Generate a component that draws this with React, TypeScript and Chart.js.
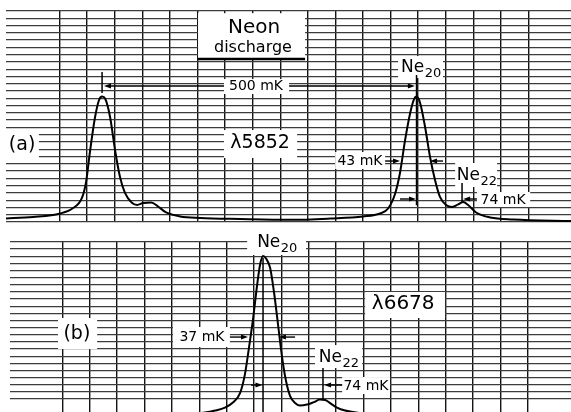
import { useEffect, useRef } from "react";
import { Chart, registerables } from "chart.js";

Chart.register(...registerables);

// ---- Data (chart-paper divisions) ----
// Panel (a) λ5852 trace
const traceAX = [-1.02, 0.04, 1.02, 1.49, 1.81, 1.96, 2.1, 2.28, 2.43, 2.54, 2.65, 2.83, 3.01, 3.19, 3.37, 3.61, 3.81, 4.03, 4.32, 4.57, 4.86, 5.37, 6.09, 7.54, 9.36, 10.81, 12.0, 12.62, 12.91, 13.16, 13.34, 13.52, 13.71, 13.85, 13.94, 14.07, 14.25, 14.43, 14.61, 14.79, 15.01, 15.23, 15.45, 15.63, 15.81, 16.1, 16.61, 17.44, 19.6];
const traceAY = [0.48, 0.69, 1.17, 1.92, 3.3, 5.5, 9.62, 14.29, 16.77, 17.25, 16.97, 14.43, 9.9, 6.18, 3.99, 2.68, 2.34, 2.61, 2.68, 2.13, 1.31, 0.76, 0.55, 0.41, 0.3, 0.48, 0.76, 1.17, 1.86, 3.85, 6.73, 11.13, 14.98, 16.9, 17.25, 16.36, 13.06, 8.93, 5.77, 3.44, 2.34, 2.06, 2.41, 2.75, 2.34, 1.31, 0.62, 0.34, 0.14];
// Panel (b) λ6678 trace
const traceBX = [5.3, 6.21, 6.58, 6.94, 7.23, 7.49, 7.67, 7.82, 7.97, 8.11, 8.22, 8.33, 8.44, 8.59, 8.73, 8.88, 9.02, 9.17, 9.32, 9.5, 9.68, 9.94, 10.19, 10.41, 10.6, 10.78, 11.03, 11.33, 11.87, 13.34];
const traceBY = [-1.09, -0.88, -0.6, -0.18, 0.52, 1.85, 4.51, 8.29, 12.36, 16.84, 19.78, 21.04, 20.69, 19.36, 16.0, 11.38, 7.03, 3.53, 1.43, 0.45, 0.1, 0.24, 0.59, 0.94, 0.87, 0.45, -0.18, -0.6, -0.95, -1.16];

// Axis ranges (divisions)
const rangeA = { xMin: -0.943, xMax: 19.54, yMin: 0, yMax: 29 };
const rangeB = { xMin: -0.913, xMax: 19.58, yMin: -0.8, yMax: 23 };

type Ann =
  | { kind: "box"; x0: number; x1: number; y0: number; y1: number }
  | { kind: "line"; x0: number; y0: number; x1: number; y1: number; w: number }
  | { kind: "arrow"; from: number; to: number; y: number }
  | { kind: "text"; x: number; y: number; text: string; size: number }
  | { kind: "iso"; x: number; y: number; text: string; sub: string; size: number; subSize: number };

const annA: Ann[] = [
  { kind: "box", x0: 6.02, x1: 9.9, y0: 22.4, y1: 28.7 },
  { kind: "line", x0: 6.02, y0: 22.4, x1: 9.9, y1: 22.4, w: 2.5 },
  { kind: "text", x: 8.05, y: 26.66, text: "Neon", size: 20 },
  { kind: "text", x: 8.01, y: 23.91, text: "discharge", size: 16 },
  { kind: "box", x0: 6.96, x1: 9.32, y0: 17.59, y1: 19.65 },
  { kind: "text", x: 8.12, y: 18.69, text: "500 mK", size: 14 },
  { kind: "arrow", from: 6.96, to: 2.61, y: 18.69 },
  { kind: "arrow", from: 9.32, to: 13.88, y: 18.69 },
  { kind: "line", x0: 2.54, y0: 20.62, x1: 2.54, y1: 17.73, w: 1.5 },
  { kind: "line", x0: 13.94, y0: 20.2, x1: 13.94, y1: 2.3, w: 1.5 },
  { kind: "box", x0: 13.27, x1: 14.9, y0: 19.79, y1: 22.81 },
  { kind: "iso", x: 14.1, y: 20.62, text: "Ne", sub: "20", size: 17, subSize: 13 },
  { kind: "box", x0: 6.96, x1: 9.61, y0: 8.8, y1: 12.64 },
  { kind: "text", x: 8.27, y: 10.79, text: "λ5852", size: 19 },
  { kind: "box", x0: -1.02, x1: 0.25, y0: 8.52, y1: 12.64 },
  { kind: "text", x: -0.36, y: 10.58, text: "(a)", size: 19 },
  { kind: "box", x0: 10.99, x1: 12.8, y0: 7.28, y1: 9.62 },
  { kind: "text", x: 11.89, y: 8.38, text: "43 mK", size: 14 },
  { kind: "arrow", from: 12.8, to: 13.34, y: 8.38 },
  { kind: "arrow", from: 14.9, to: 14.43, y: 8.38 },
  { kind: "arrow", from: 13.34, to: 13.92, y: 3.16 },
  { kind: "line", x0: 15.59, y0: 5.36, x1: 15.59, y1: 2.61, w: 1.5 },
  { kind: "arrow", from: 16.13, to: 15.63, y: 3.16 },
  { kind: "box", x0: 16.13, x1: 18.06, y0: 2.06, y1: 4.12 },
  { kind: "text", x: 17.08, y: 3.02, text: "74 mK", size: 14 },
  { kind: "box", x0: 15.34, x1: 16.86, y0: 4.81, y1: 8.11 },
  { kind: "iso", x: 16.12, y: 5.77, text: "Ne", sub: "22", size: 17, subSize: 13 },
];

const annB: Ann[] = [
  { kind: "box", x0: 7.75, x1: 9.9, y0: 21.18, y1: 23.3 },
  { kind: "iso", x: 8.84, y: 22.3, text: "Ne", sub: "20", size: 17, subSize: 13 },
  { kind: "line", x0: 8.33, y0: 20.76, x1: 8.33, y1: -0.9, w: 1.5 },
  { kind: "box", x0: 0.84, x1: 2.27, y0: 8.01, y1: 12.36 },
  { kind: "text", x: 1.53, y: 10.12, text: "(b)", size: 19 },
  { kind: "box", x0: 5.04, x1: 7.12, y0: 8.29, y1: 11.1 },
  { kind: "text", x: 6.1, y: 9.69, text: "37 mK", size: 14 },
  { kind: "arrow", from: 7.12, to: 7.78, y: 9.69 },
  { kind: "arrow", from: 9.5, to: 8.91, y: 9.69 },
  { kind: "arrow", from: 7.89, to: 8.31, y: 2.97 },
  { kind: "box", x0: 10.23, x1: 11.95, y0: 5.35, y1: 8.57 },
  { kind: "iso", x: 11.09, y: 6.19, text: "Ne", sub: "22", size: 17, subSize: 13 },
  { kind: "line", x0: 10.52, y0: 5.35, x1: 10.52, y1: 0.87, w: 1.5 },
  { kind: "arrow", from: 11.22, to: 10.56, y: 2.97 },
  { kind: "box", x0: 11.22, x1: 12.97, y0: 1.71, y1: 4.09 },
  { kind: "text", x: 12.09, y: 2.83, text: "74 mK", size: 14 },
  { kind: "box", x0: 12.06, x1: 14.98, y0: 12.36, y1: 16.0 },
  { kind: "text", x: 13.45, y: 14.32, text: "λ6678", size: 20 },
];

const FONT = '"DejaVu Sans", "Liberation Sans", sans-serif';

function makeOverlay(anns: Ann[]) {
  return {
    id: "overlay",
    beforeDatasetsDraw(chart: any) {
      const { ctx } = chart;
      const sx = chart.scales.x;
      const sy = chart.scales.y;
      ctx.save();
      ctx.fillStyle = "#fff";
      for (const a of anns) {
        if (a.kind !== "box") continue;
        const x0 = sx.getPixelForValue(a.x0);
        const x1 = sx.getPixelForValue(a.x1);
        const y0 = sy.getPixelForValue(a.y0);
        const y1 = sy.getPixelForValue(a.y1);
        ctx.fillRect(Math.min(x0, x1), Math.min(y0, y1), Math.abs(x1 - x0), Math.abs(y1 - y0));
      }
      ctx.restore();
    },
    afterDatasetsDraw(chart: any) {
      const { ctx } = chart;
      const sx = chart.scales.x;
      const sy = chart.scales.y;
      ctx.save();
      ctx.strokeStyle = "#000";
      ctx.fillStyle = "#000";
      for (const a of anns) {
        if (a.kind === "line") {
          ctx.lineWidth = a.w;
          ctx.beginPath();
          ctx.moveTo(sx.getPixelForValue(a.x0), sy.getPixelForValue(a.y0));
          ctx.lineTo(sx.getPixelForValue(a.x1), sy.getPixelForValue(a.y1));
          ctx.stroke();
        } else if (a.kind === "arrow") {
          const f = sx.getPixelForValue(a.from);
          const t = sx.getPixelForValue(a.to);
          const y = sy.getPixelForValue(a.y);
          const dir = t > f ? 1 : -1;
          ctx.lineWidth = 1.4;
          ctx.beginPath();
          ctx.moveTo(f, y);
          ctx.lineTo(t - dir * 4, y);
          ctx.stroke();
          ctx.beginPath();
          ctx.moveTo(t, y);
          ctx.lineTo(t - dir * 7, y - 2.5);
          ctx.lineTo(t - dir * 7, y + 2.5);
          ctx.closePath();
          ctx.fill();
        } else if (a.kind === "text") {
          ctx.font = `${a.size}px ${FONT}`;
          ctx.textAlign = "center";
          ctx.textBaseline = "middle";
          ctx.fillText(a.text, sx.getPixelForValue(a.x), sy.getPixelForValue(a.y));
        } else if (a.kind === "iso") {
          const cx = sx.getPixelForValue(a.x);
          const by = sy.getPixelForValue(a.y);
          ctx.font = `${a.size}px ${FONT}`;
          const w1 = ctx.measureText(a.text).width;
          ctx.font = `${a.subSize}px ${FONT}`;
          const w2 = ctx.measureText(a.sub).width;
          const left = cx - (w1 + w2) / 2;
          ctx.textAlign = "left";
          ctx.textBaseline = "alphabetic";
          ctx.font = `${a.size}px ${FONT}`;
          ctx.fillText(a.text, left, by);
          ctx.font = `${a.subSize}px ${FONT}`;
          ctx.fillText(a.sub, left + w1 + 0.5, by + a.subSize * 0.35);
        }
      }
      ctx.restore();
    },
  };
}

function makeConfig(
  xs: number[],
  ys: number[],
  range: { xMin: number; xMax: number; yMin: number; yMax: number },
  padding: { left: number; top: number; right: number; bottom: number },
  anns: Ann[]
): any {
  const onlyIntegers = (scale: any) => {
    scale.ticks = scale.ticks.filter((t: any) => Math.abs(t.value - Math.round(t.value)) < 1e-6);
  };
  return {
    type: "line",
    data: {
      datasets: [
        {
          data: xs.map((x, i) => ({ x, y: ys[i] })),
          borderColor: "#000",
          borderWidth: 2,
          pointRadius: 0,
          fill: false,
          cubicInterpolationMode: "monotone",
        },
      ],
    },
    options: {
      responsive: false,
      animation: false,
      events: [],
      layout: { padding },
      plugins: { legend: { display: false }, tooltip: { enabled: false } },
      scales: {
        x: {
          type: "linear",
          min: range.xMin,
          max: range.xMax,
          ticks: { display: false, stepSize: 1 },
          grid: { color: "#141414", lineWidth: 1.4, drawTicks: false },
          border: { display: false },
          afterBuildTicks: onlyIntegers,
        },
        y: {
          type: "linear",
          min: range.yMin,
          max: range.yMax,
          ticks: { display: false, stepSize: 1 },
          grid: { color: "#3c3c3c", lineWidth: 1.3, drawTicks: false },
          border: { display: false },
          afterBuildTicks: onlyIntegers,
        },
      },
    },
    plugins: [makeOverlay(anns)],
  };
}

export default function App() {
  const refA = useRef<HTMLCanvasElement>(null);
  const refB = useRef<HTMLCanvasElement>(null);

  useEffect(() => {
    const a = new Chart(
      refA.current!,
      makeConfig(traceAX, traceAY, rangeA, { left: 6, top: 11, right: 0, bottom: 8 }, annA)
    );
    const b = new Chart(
      refB.current!,
      makeConfig(traceBX, traceBY, rangeB, { left: 10, top: 12, right: 0, bottom: 0 }, annB)
    );
    return () => {
      a.destroy();
      b.destroy();
    };
  }, []);

  return (
    <div style={{ position: "absolute", left: 0, top: 0, width: 571, height: 412, background: "#fff" }}>
      <canvas ref={refA} width={571} height={230} style={{ position: "absolute", left: 0, top: 0 }} />
      <canvas ref={refB} width={571} height={182} style={{ position: "absolute", left: 0, top: 230 }} />
    </div>
  );
}
